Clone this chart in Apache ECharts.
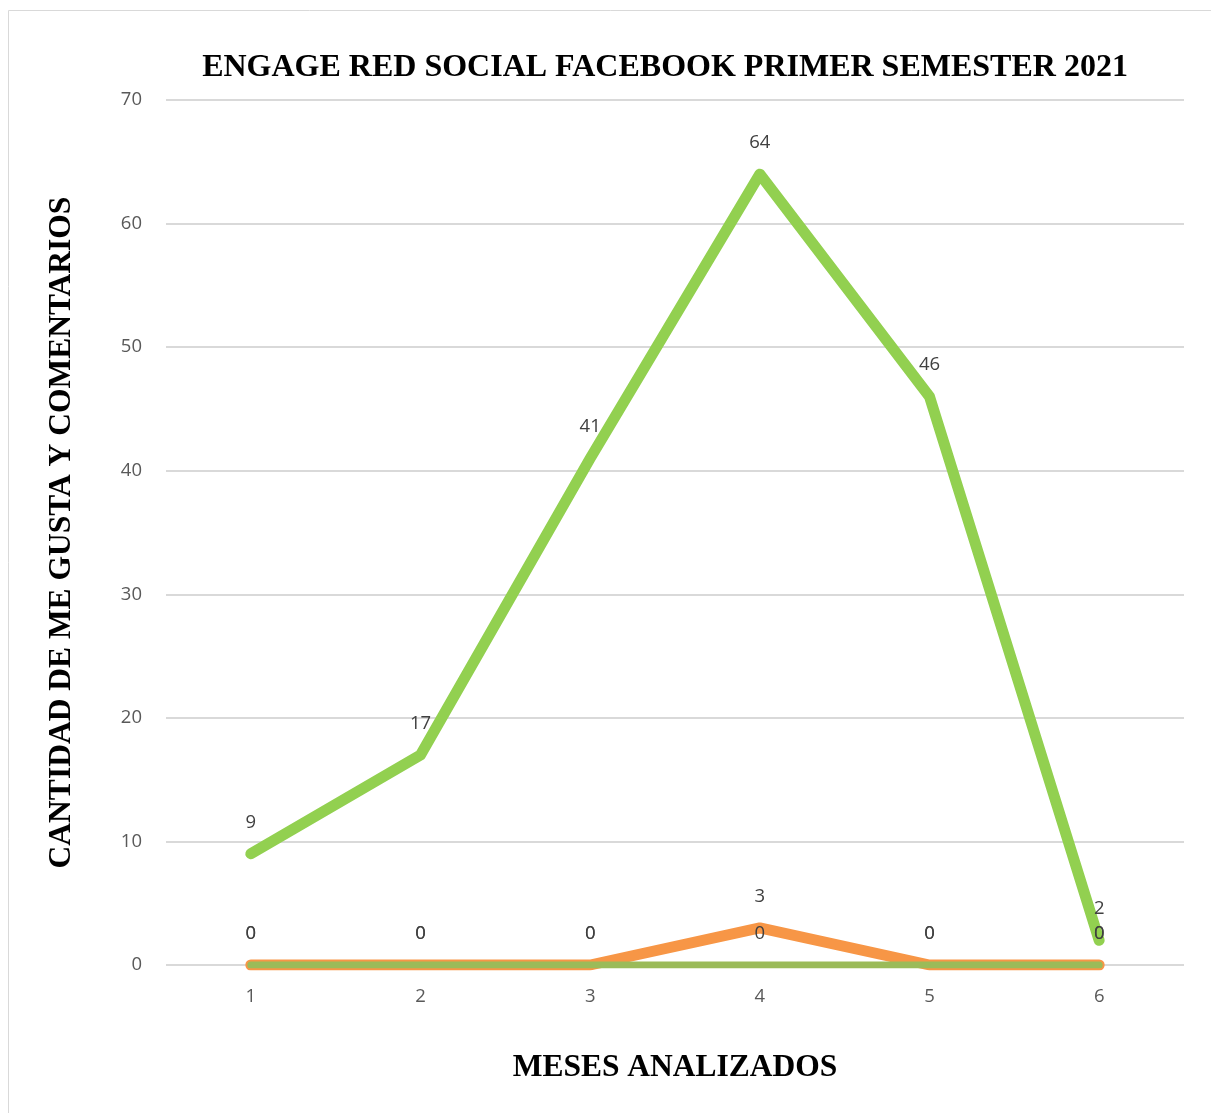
<!DOCTYPE html>
<html><head><meta charset="utf-8">
<script src="https://cdn.jsdelivr.net/npm/echarts@6/dist/echarts.min.js"></script>
<style>html,body{margin:0;padding:0;background:#fff}#c{width:1211px;height:1113px}</style>
</head><body><div id="c"></div>
<script>
const categories = ['1','2','3','4','5','6'];
const seriesOrange = [0,0,0,3,0,0];
const seriesOlive = [0,0,0,0,0,0];
const seriesGreen = [9,17,41,64,46,2];
const yTicks = {min:0, max:70, interval:10};

const chart = echarts.init(document.getElementById('c'));
const lbl = {show:true, position:'top', distance:21, color:'#404040', fontSize:18.5, fontFamily:'Open Sans'};
function mk(name, data, color, width, z){
  return {name, type:'line', data, z, symbol:'circle', symbolSize:2, showSymbol:true,
    itemStyle:{color}, lineStyle:{color, width, cap:'round', join:'round'},
    label:lbl, animation:false};
}
chart.setOption({
  animation:false,
  graphic:[{type:'rect', shape:{x:8.5,y:10.5,width:1220,height:1120}, style:{fill:'none', stroke:'#d9d9d9', lineWidth:1}, silent:true}],
  title:{text:'ENGAGE RED SOCIAL FACEBOOK PRIMER SEMESTER 2021', left:660, top:47, textAlign:'center',
    textStyle:{fontFamily:'Liberation Serif', fontWeight:'bold', fontSize:32, color:'#000'}},
  grid:{left:166, right:27, top:100, bottom:148},
  xAxis:{type:'category', data:categories, boundaryGap:true,
    axisLine:{show:false}, axisTick:{show:false},
    axisLabel:{color:'#595959', fontSize:18.5, margin:22, fontFamily:'Open Sans'},
    name:'MESES ANALIZADOS', nameLocation:'middle', nameGap:87,
    nameTextStyle:{fontFamily:'Liberation Serif', fontWeight:'bold', fontSize:31.5, color:'#000'}},
  yAxis:{type:'value', min:yTicks.min, max:yTicks.max, interval:yTicks.interval,
    axisLine:{show:false}, axisTick:{show:false},
    splitLine:{lineStyle:{color:'#d9d9d9', width:2}},
    axisLabel:{color:'#595959', fontSize:18.5, margin:24, fontFamily:'Open Sans'},
    name:'CANTIDAD DE ME GUSTA Y COMENTARIOS', nameLocation:'middle', nameGap:88, nameRotate:90,
    nameTextStyle:{fontFamily:'Liberation Serif', fontWeight:'bold', fontSize:31.5, color:'#000'}},
  series:[
    mk('Me gusta', seriesGreen, '#92D050', 11, 1),
    mk('Comentarios', seriesOrange, '#F79646', 11, 2),
    mk('Compartidos', seriesOlive, '#9BBB59', 7, 3)
  ]
});
</script></body></html>
